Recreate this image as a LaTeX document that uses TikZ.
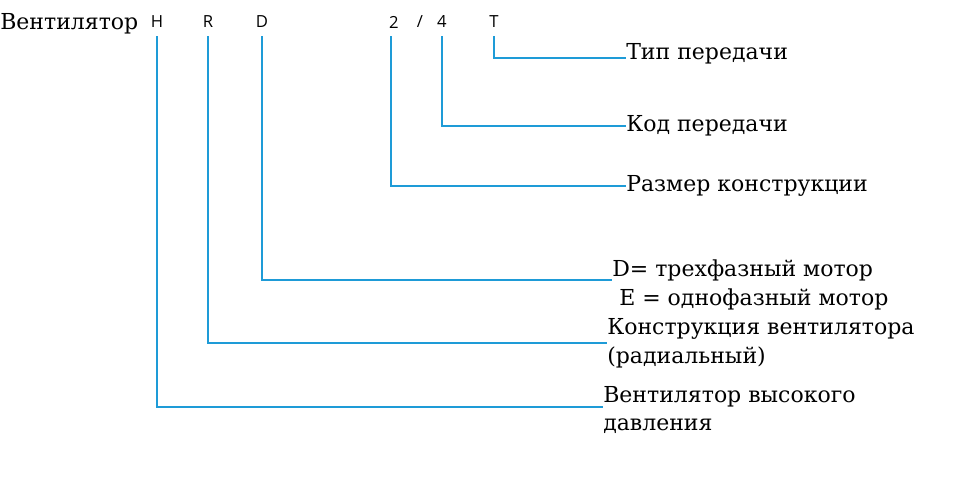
\documentclass[tikz,border=0pt]{standalone}
\usepackage{fontspec}
\setmainfont{DejaVu Serif}
\newfontfamily\codefont{Open Sans}
\usetikzlibrary{positioning}

\begin{document}
\begin{tikzpicture}[
  x=0.75pt, y=-0.75pt,
  code/.style = {font=\codefont\fontsize{12.5}{14}\selectfont, inner sep=1pt},
  desc/.style = {anchor=west, align=left, inner sep=0pt, font=\fontsize{16.5}{21.7}\selectfont},
  link/.style = {draw={rgb,255:red,30;green,155;blue,215}, line width=1.5pt}
]
  \useasboundingbox (0,0) rectangle (960,476);

  % model code
  \node[anchor=west, inner sep=0pt, font=\fontsize{16.5}{18}\selectfont] (fan) at (0,24) {Вентилятор};
  \node[code] (cH) at (157,22) {H};
  \node[code] (cR) at (208,22) {R};
  \node[code] (cD) at (262,22) {D};
  \node[code] (c2) at (394,22) {2};
  \node[code] (cs) at (420,22) {/};
  \node[code] (c4) at (442,22) {4};
  \node[code] (cT) at (494,22) {T};

  % descriptions
  \node[desc] (dT) at (626,54) {Тип передачи};
  \node[desc] (d4) at (626,126) {Код передачи};
  \node[desc] (d2) at (626,186) {Размер конструкции};
  \node[desc] (dD) at (612,285) {D= трехфазный мотор\\\ E = однофазный мотор};
  \node[desc] (dR) at (607,343) {Конструкция вентилятора\\(радиальный)};
  \node[desc] (dH) at (603,410) {Вентилятор высокого\\давления};

  % leaders
  \draw[link] ([yshift=-5pt]cT.south) |- ([yshift=-3pt]dT.west);
  \draw[link] ([yshift=-5pt]c4.south) |- (d4.west);
  \draw[link] ([xshift=-2pt,yshift=-5pt]c2.south) |- (d2.west);
  \draw[link] ([yshift=-5pt]cD.south) |- ([yshift=4pt]dD.west);
  \draw[link] ([yshift=-5pt]cR.south) |- (dR.west);
  \draw[link] ([yshift=-5pt]cH.south) |- ([yshift=2pt]dH.west);
\end{tikzpicture}
\end{document}
